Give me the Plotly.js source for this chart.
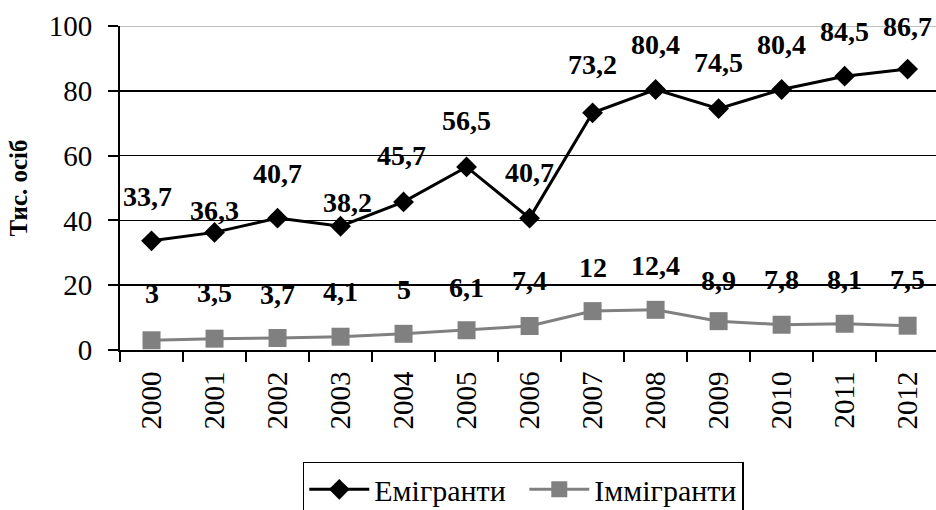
<!DOCTYPE html>
<html>
<head>
<meta charset="utf-8">
<script src="https://cdn.plot.ly/plotly-3.0.1.min.js"></script>
<style>html,body{margin:0;padding:0;background:#fff;}#chart{width:936px;height:510px;}</style>
</head>
<body>
<div id="chart"></div>
<script>
// ---- data ----
const years = ['2000','2001','2002','2003','2004','2005','2006','2007','2008','2009','2010','2011','2012'];
const emigrants = [33.7,36.3,40.7,38.2,45.7,56.5,40.7,73.2,80.4,74.5,80.4,84.5,86.7];
const immigrants = [3,3.5,3.7,4.1,5,6.1,7.4,12,12.4,8.9,7.8,8.1,7.5];
const seriesNames = ['Емігранти','Іммігранти'];
const yTicks = [0,20,40,60,80,100];

// ---- label placement (pixels above each point) ----
const emiShift = [44,22,45,24,46,46,46,48,45,46,45,45,43];
const emiXShift = [-4,0,0,7,-2,0,0,0,0,0,0,0,0];
const immShift = [47,46,44,45,44,43,46,44,44,41,45,44,46];

const FONT = 'Liberation Serif';
const fmt = v => String(v).replace('.', ',');

const traces = [
  {
    x: years, y: emigrants, name: seriesNames[0], type: 'scatter', mode: 'lines+markers',
    line: {color: '#000000', width: 3},
    marker: {symbol: 'diamond', size: 16, color: '#000000'},
    legendwidth: 145
  },
  {
    x: years, y: immigrants, name: seriesNames[1], type: 'scatter', mode: 'lines+markers',
    line: {color: '#808080', width: 3},
    marker: {symbol: 'square', size: 18, color: '#808080'}
  }
];

const annotations = [];
years.forEach((yr, i) => {
  annotations.push({xref: 'x', yref: 'y', x: i, y: emigrants[i], text: '<b>' + fmt(emigrants[i]) + '</b>',
    showarrow: false, xanchor: 'center', yanchor: 'middle',
    yshift: emiShift[i], xshift: emiXShift[i],
    font: {family: FONT, size: 28, color: '#000'}});
  annotations.push({xref: 'x', yref: 'y', x: i, y: immigrants[i], text: '<b>' + fmt(immigrants[i]) + '</b>',
    showarrow: false, xanchor: 'center', yanchor: 'middle',
    yshift: immShift[i],
    font: {family: FONT, size: 28, color: '#000'}});
});

const layout = {
  width: 936, height: 510,
  margin: {l: 120, r: 0, t: 26, b: 160, autoexpand: false},
  paper_bgcolor: '#ffffff', plot_bgcolor: '#ffffff',
  font: {family: FONT, size: 28, color: '#000'},
  showlegend: true,
  legend: {
    orientation: 'h', x: 0.224, xanchor: 'left', y: -0.345, yanchor: 'top',
    bordercolor: '#000', borderwidth: 1.5, bgcolor: '#fff', itemwidth: 60,
    font: {family: FONT, size: 30, color: '#000'}
  },
  xaxis: {
    type: 'category', range: [-0.5, 12.45],
    tickangle: -90, ticks: 'outside', ticklen: 10, tickwidth: 2, tickcolor: '#000',
    tickson: 'boundaries', ticklabelstandoff: 8,
    showline: true, linecolor: '#000', linewidth: 2,
    showgrid: false, zeroline: false,
    tickfont: {family: FONT, size: 29, color: '#000'}
  },
  yaxis: {
    range: [0, 100], tickvals: yTicks, ticktext: yTicks.map(String),
    ticks: 'outside', ticklen: 10, tickwidth: 2, tickcolor: '#000', ticklabelstandoff: 10,
    showline: true, linecolor: '#000', linewidth: 2,
    showgrid: true, gridcolor: '#000', gridwidth: 1.5, zeroline: false,
    tickfont: {family: FONT, size: 29, color: '#000'},
    title: {text: '<b>Тис. осіб</b>', font: {family: FONT, size: 25, color: '#000'}, standoff: 14}
  },
  shapes: [
    {type: 'line', xref: 'paper', x0: 0, x1: 1, yref: 'y', y0: 100, y1: 100,
     line: {color: '#c0c0c0', width: 2}, layer: 'below'}
  ],
  annotations: annotations
};

Plotly.newPlot('chart', traces, layout, {displayModeBar: false, staticPlot: true});
</script>
</body>
</html>
